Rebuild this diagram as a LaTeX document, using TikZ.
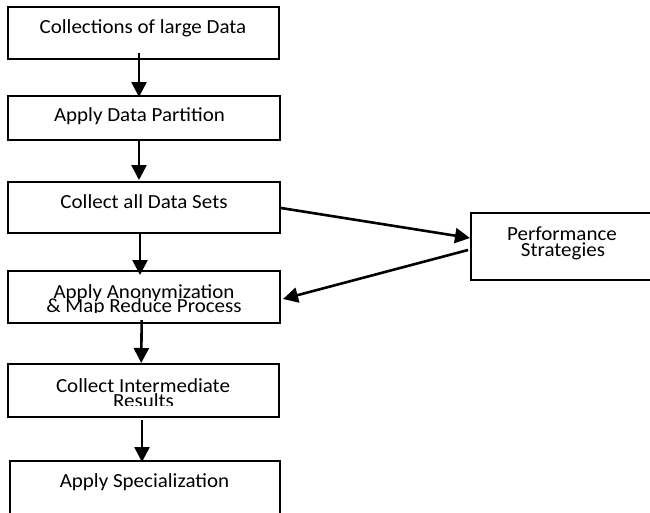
\documentclass[tikz,border=0pt]{standalone}
\usepackage{fontspec}
\setmainfont[FakeStretch=1.05]{Carlito}
\usetikzlibrary{arrows.meta}
\begin{document}
\begin{tikzpicture}[x=1pt,y=-1pt,
  box/.style={draw=black, line width=1.5pt, rectangle, inner sep=0pt, outer sep=0pt, anchor=north west},
  txt/.style={font=\fontsize{20}{16}\selectfont, inner sep=0pt, anchor=base},
  arr/.style={line width=2.6pt, -{Triangle[length=15pt,width=15pt]}}]
\useasboundingbox (0,0) rectangle (650,512);
\clip (0,0) rectangle (650,512);
\fill[white] (0,0) rectangle (650,512);
% boxes
\node[box, minimum width=271pt, minimum height=52pt] (b1) at (8,7) {};
\node[box, minimum width=272pt, minimum height=44pt] (b2) at (8,96) {};
\node[box, minimum width=272pt, minimum height=51pt] (b3) at (8,182) {};
\node[box, minimum width=272pt, minimum height=52pt] (b4) at (8,271) {};
\node[box, minimum width=271pt, minimum height=53pt] (b5) at (8,364) {};
\node[box, minimum width=270pt, minimum height=60pt] (b6) at (10,461) {};
\node[box, minimum width=190pt, minimum height=67pt] (perf) at (471,213) {};
% texts
\node[txt] (t1) at (143,33.3) {Collections of large Data};
\node[txt] (t2) at (139.5,121.7) {Apply Data Partition};
\node[txt] (t3) at (144,208) {Collect all Data Sets};
\node[txt] (t4a) at (144,298) {Apply Anonymization};
\begin{scope}
\clip (0,0) rectangle (650,312);
\node[txt] (t4b) at (144,312) {\& Map Reduce Process};
\end{scope}
\node[txt] (t5a) at (143,392) {Collect Intermediate};
\begin{scope}
\clip (0,0) rectangle (650,405);
\node[txt] (t5b) at (143.5,407) {Results};
\end{scope}
\node[txt] (t6) at (144.5,487) {Apply Specialization};
\node[txt] (tp1) at (562,240) {Performance};
\node[txt] (tp2) at (563,256) {Strategies};
% connectors
\draw[arr] ([xshift=-4.5pt,yshift=6pt]b1.south) -- ([xshift=-5pt,yshift=-1pt]b2.north);
\draw[arr] ([xshift=-5pt]b2.south) -- ([xshift=-5pt,yshift=2pt]b3.north);
\draw[arr] ([xshift=-4pt]b3.south) -- ([xshift=-4pt,yshift=-4pt]b4.north);
\draw[arr] ([xshift=-2.3pt,yshift=3pt]b4.south) -- ([xshift=-2.3pt,yshift=1pt]b5.north);
\draw[arr] ([xshift=-1.5pt,yshift=-3pt]b5.south) -- ([xshift=-3pt,yshift=-1pt]b6.north);
\draw[arr] ([xshift=1pt,yshift=-0.5pt]b3.east) -- ([xshift=-1pt,yshift=8.5pt]perf.west);
\draw[arr] ([xshift=-3pt,yshift=-3.5pt]perf.west) -- ([xshift=3pt,yshift=-2pt]b4.east);
\end{tikzpicture}
\end{document}
